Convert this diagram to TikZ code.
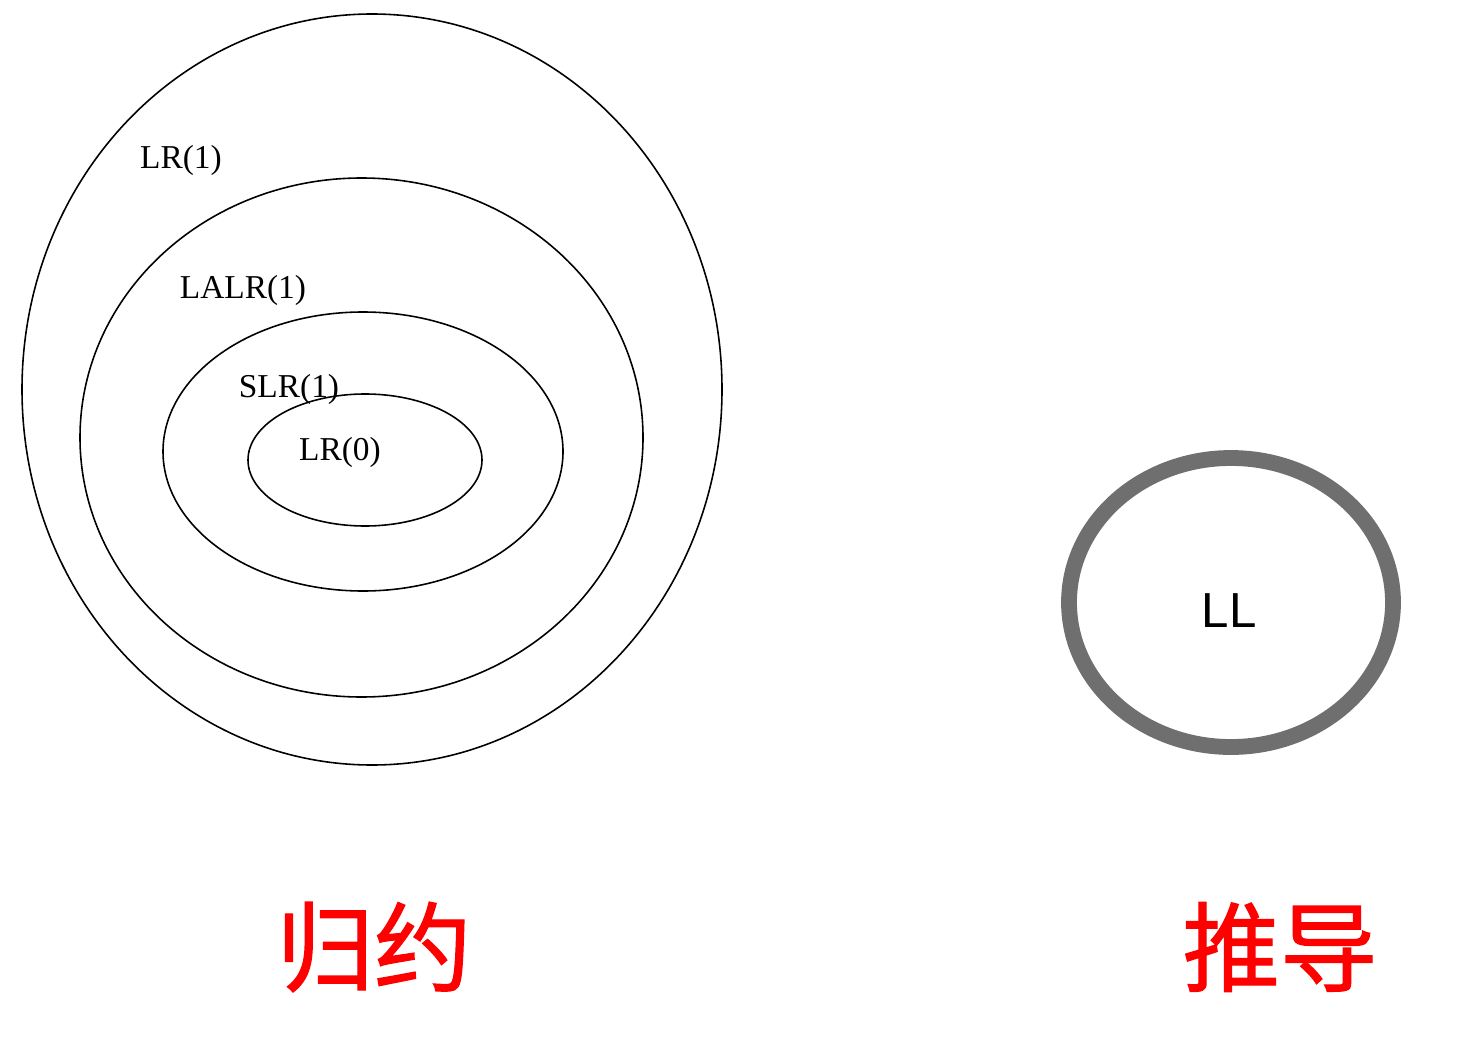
\documentclass[tikz,border=0pt]{standalone}
\usepackage{fontspec}
\setmainfont{Liberation Serif}
\newfontfamily\llfont{Liberation Sans}
\newfontfamily\cjk[FakeBold=1.2]{Noto Sans CJK SC}
\usetikzlibrary{positioning}
\definecolor{RingGray}{HTML}{6F6F6F}
\definecolor{TagRed}{HTML}{FF0000}

\begin{document}
\begin{tikzpicture}[x=0.02cm,y=-0.02cm,
    ring/.style={draw=black, line width=0.9pt},
    tag/.style={font=\fontsize{19}{19}\selectfont, inner sep=0pt},
    kind/.style={font=\cjk\fontsize{55.5}{55.5}\selectfont, color=TagRed, inner sep=0pt}]
        \useasboundingbox (0,0) rectangle (1462,1040);

        % nested LR family
        \draw[ring] (372,389.5) ellipse (350 and 375.5);
        \draw[ring] (361.5,437.5) ellipse (281.5 and 259.5);
        \draw[ring] (363,451.5) ellipse (200 and 139.5);
        \draw[ring] (365,460) ellipse (117 and 66);

        \node[tag] (lr1) at (181,160) {LR(1)};
        \node[tag] (lalr) at (243,290) {LALR(1)};
        \node[tag] (slr) at (289,389) {SLR(1)};
        \node[tag] (lr0) at (340,452) {LR(0)};

        % LL on its own
        \draw[draw=RingGray, line width=9pt] (1231,602.5) ellipse (162 and 144.5);
        \node[font=\llfont\fontsize{28}{28}\selectfont, inner sep=0pt] (ll) at (1229,611) {LL};

        \node[kind] (reduce) at (374,947) {归约};
        \node[kind] (derive) at (1280,947) {推导};
      \end{tikzpicture}
\end{document}
